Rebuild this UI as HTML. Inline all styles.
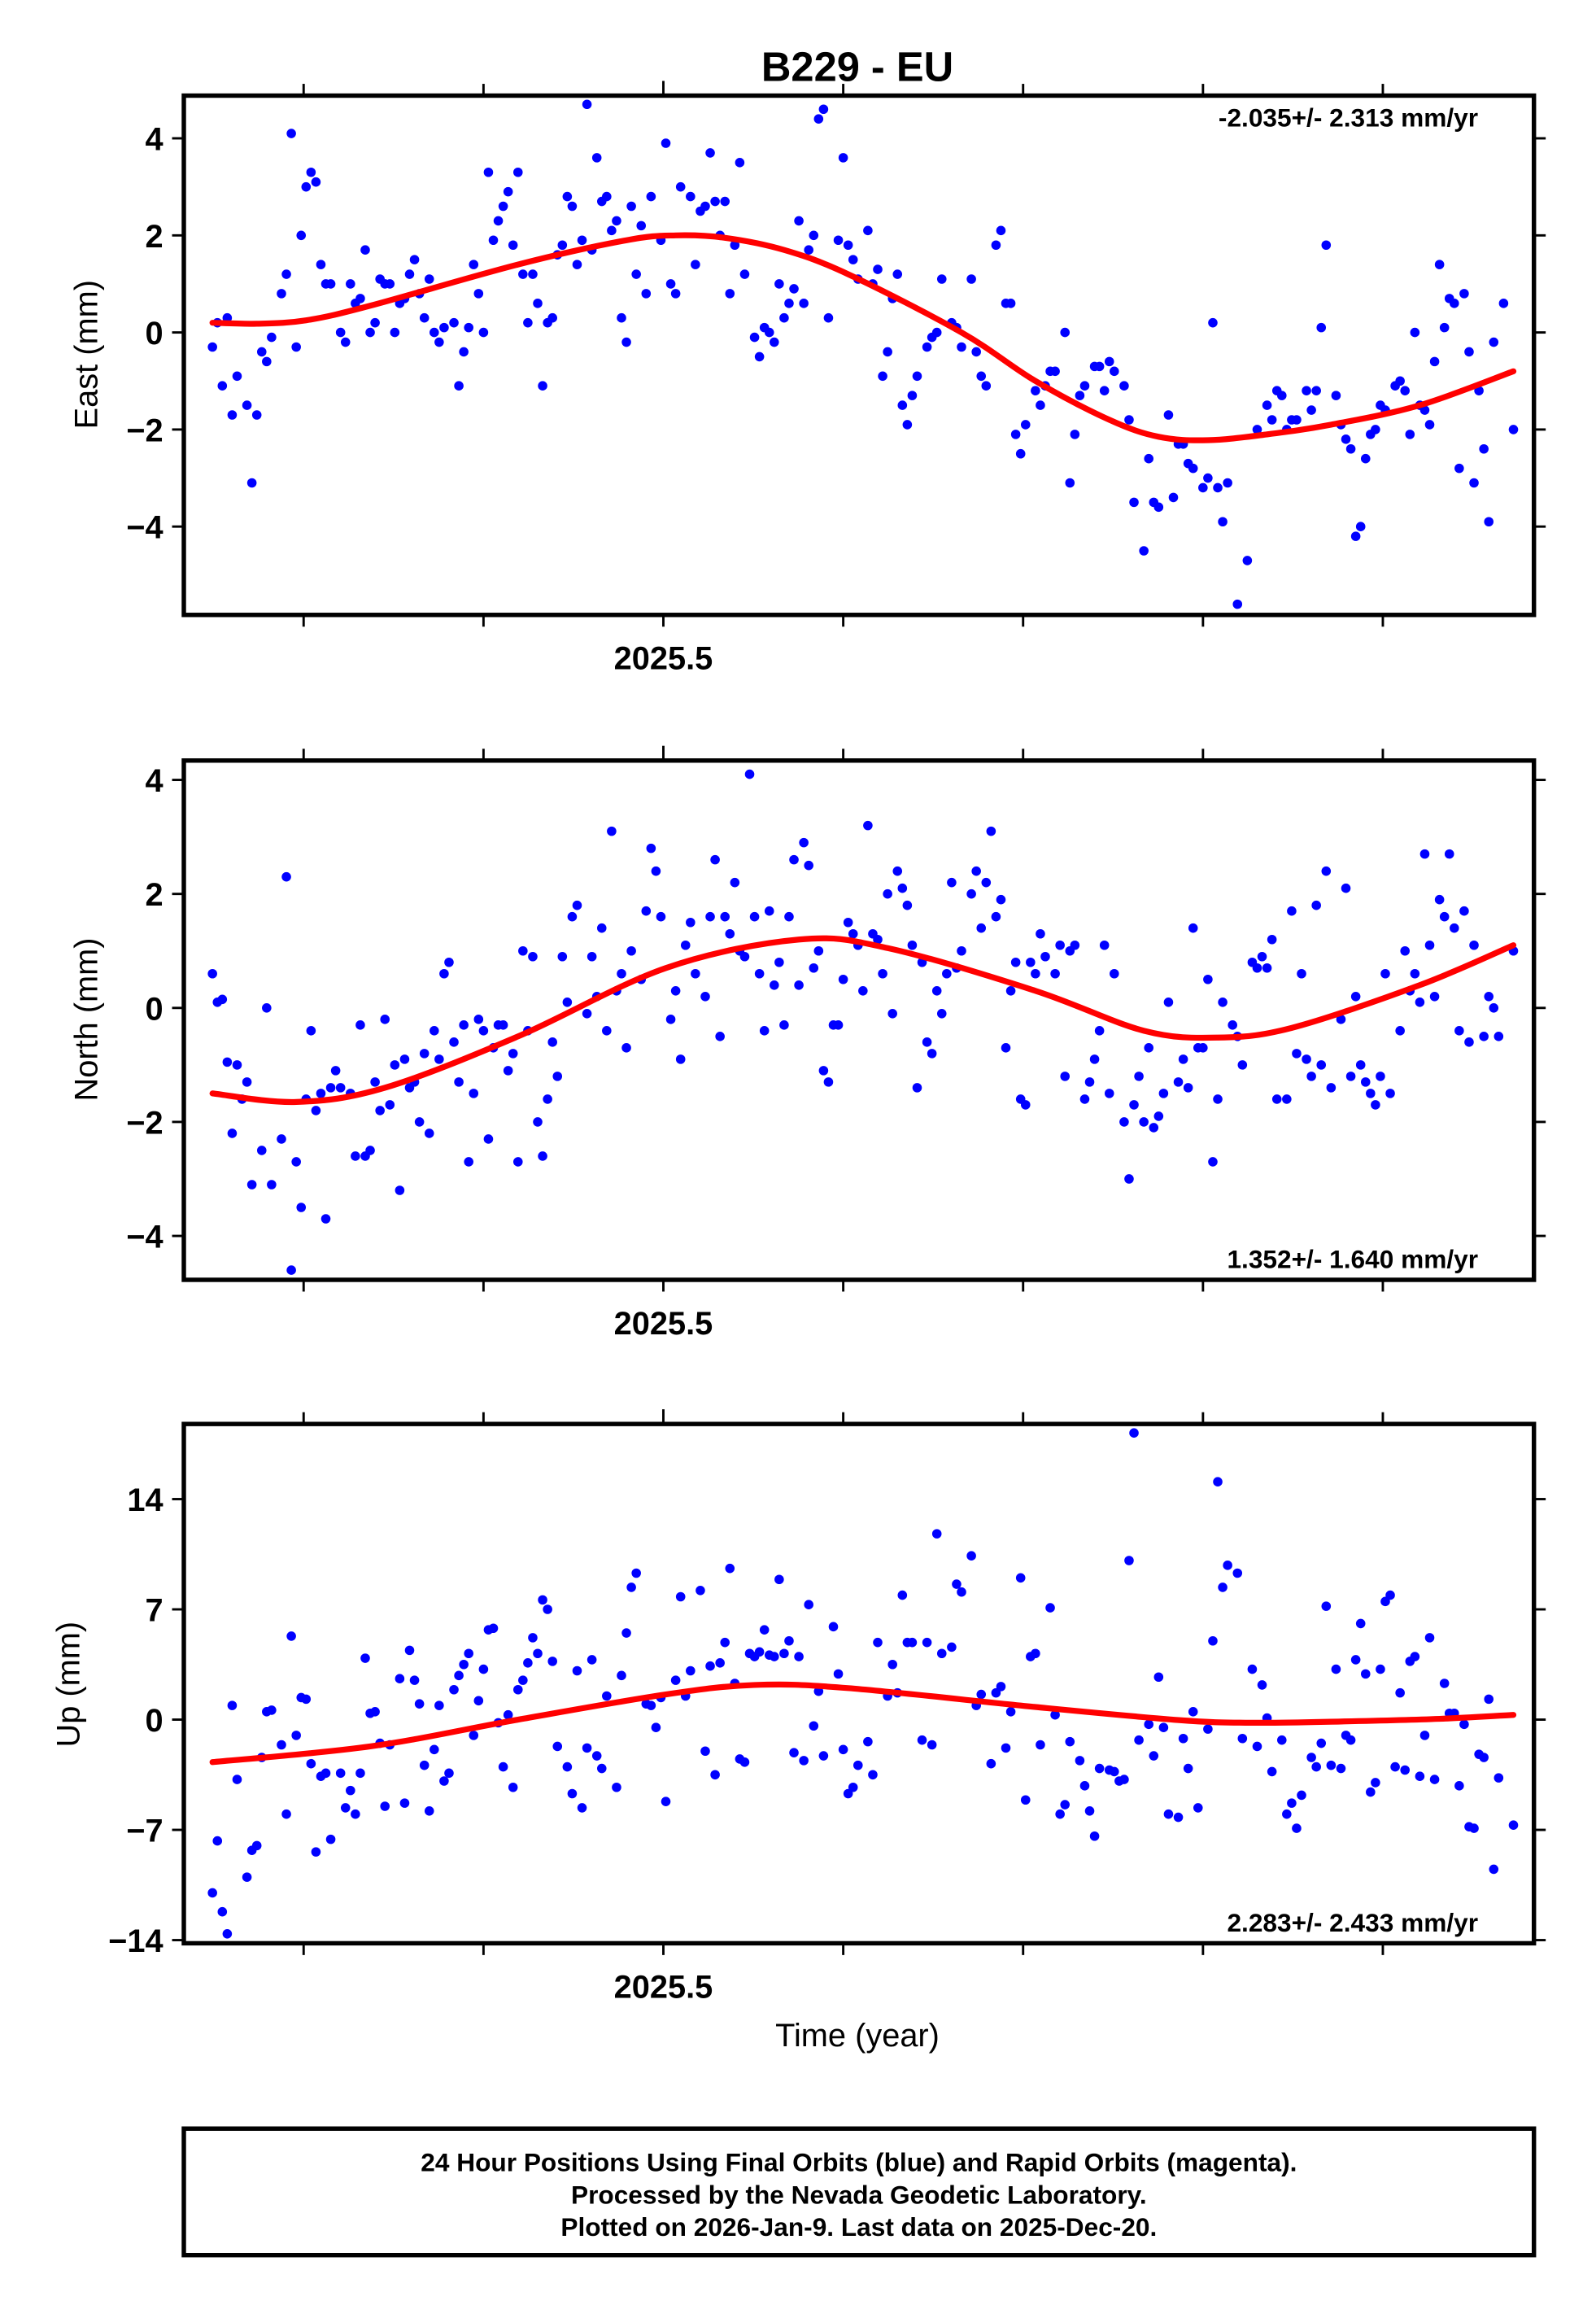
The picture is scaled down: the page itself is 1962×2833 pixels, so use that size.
<!DOCTYPE html>
<html><head><meta charset="utf-8"><title>B229 - EU</title>
<style>
html,body{margin:0;padding:0;background:#fff;}
svg{display:block;font-family:"Liberation Sans",Arial,sans-serif;}
</style></head>
<body>
<svg id="chart" width="1962" height="2833" viewBox="0 0 1085.2 1566.9" preserveAspectRatio="none" xmlns="http://www.w3.org/2000/svg">
<rect x="0" y="0" width="1090" height="1570" fill="#fff"/>
<text x="583" y="55" text-anchor="middle" font-size="28" font-weight="bold">B229 - EU</text>
<g id="panels"></g>
<text x="583" y="1391" text-anchor="middle" font-size="22">Time (year)</text>
<g>
<rect x="125" y="1447" width="918" height="86" fill="none" stroke="#000" stroke-width="3"/>
<text x="584" y="1476" text-anchor="middle" font-size="17.5" font-weight="bold">24 Hour Positions Using Final Orbits (blue) and Rapid Orbits (magenta).</text>
<text x="584" y="1498" text-anchor="middle" font-size="17.5" font-weight="bold">Processed by the Nevada Geodetic Laboratory.</text>
<text x="584" y="1520" text-anchor="middle" font-size="17.5" font-weight="bold">Plotted on 2026-Jan-9. Last data on 2025-Dec-20.</text>
</g>
</svg>
<script>
// ---- data (day of year 2025) ----
const eastDoy=[91,92,93,94,95,96,98,99,100,101,102,103,105,106,107,108,109,110,111,112,113,114,115,117,118,119,120,121,122,123,124,125,126,127,128,129,130,131,132,133,134,135,136,137,138,140,141,142,143,144,145,146,147,148,149,150,151,152,153,154,155,156,157,158,159,160,161,162,163,164,165,166,167,168,169,170,171,172,173,174,175,176,177,178,179,180,182,183,184,185,186,188,189,190,191,192,193,194,195,196,197,198,199,201,202,203,204,205,206,207,208,209,210,211,212,213,214,215,216,218,219,220,221,222,224,225,226,227,228,229,230,231,232,233,234,236,237,238,239,241,242,243,245,246,247,248,250,251,252,253,254,255,256,258,259,260,261,262,264,265,266,267,268,270,271,272,273,274,276,277,278,280,281,282,283,285,286,287,288,289,290,292,293,294,295,296,297,299,301,303,305,306,307,308,309,310,311,313,314,315,316,317,319,320,321,322,323,324,325,326,327,328,329,331,332,333,334,335,336,337,338,339,340,341,342,343,344,345,346,347,348,349,350,351,353,355];
const eastVal=[-0.3,0.2,-1.1,0.3,-1.7,-0.9,-1.5,-3.1,-1.7,-0.4,-0.6,-0.1,0.8,1.2,4.1,-0.3,2.0,3.0,3.3,3.1,1.4,1.0,1.0,0.0,-0.2,1.0,0.6,0.7,1.7,0.0,0.2,1.1,1.0,1.0,0.0,0.6,0.7,1.2,1.5,0.8,0.3,1.1,0.0,-0.2,0.1,0.2,-1.1,-0.4,0.1,1.4,0.8,0.0,3.3,1.9,2.3,2.6,2.9,1.8,3.3,1.2,0.2,1.2,0.6,-1.1,0.2,0.3,1.6,1.8,2.8,2.6,1.4,1.9,4.7,1.7,3.6,2.7,2.8,2.1,2.3,0.3,-0.2,2.6,1.2,2.2,0.8,2.8,1.9,3.9,1.0,0.8,3.0,2.8,1.4,2.5,2.6,3.7,2.7,2.0,2.7,0.8,1.8,3.5,1.2,-0.1,-0.5,0.1,0.0,-0.2,1.0,0.3,0.6,0.9,2.3,0.6,1.7,2.0,4.4,4.6,0.3,1.9,3.6,1.8,1.5,1.1,2.1,1.0,1.3,-0.9,-0.4,0.7,1.2,-1.5,-1.9,-1.3,-0.9,-0.3,-0.1,0.0,1.1,0.2,0.1,-0.3,1.1,-0.4,-0.9,-1.1,1.8,2.1,0.6,0.6,-2.1,-2.5,-1.9,-1.2,-1.5,-1.1,-0.8,-0.8,0.0,-3.1,-2.1,-1.3,-1.1,-0.7,-0.7,-1.2,-0.6,-0.8,-1.1,-1.8,-3.5,-4.5,-2.6,-3.5,-3.6,-1.7,-3.4,-2.3,-2.3,-2.7,-2.8,-3.2,-3.0,0.2,-3.2,-3.9,-3.1,-5.6,-4.7,-2.0,-1.5,-1.8,-1.2,-1.3,-2.0,-1.8,-1.8,-1.2,-1.6,-1.2,0.1,1.8,-1.3,-1.9,-2.2,-2.4,-4.2,-4.0,-2.6,-2.1,-2.0,-1.5,-1.6,-1.1,-1.0,-1.2,-2.1,0.0,-1.5,-1.6,-1.9,-0.6,1.4,0.1,0.7,0.6,-2.8,0.8,-0.4,-3.1,-1.2,-2.4,-3.9,-0.2,0.6,-2.0];
const northDoy=[91,92,93,94,95,96,97,98,99,101,102,103,105,106,107,108,109,110,111,112,113,114,115,116,117,119,120,121,122,123,124,125,126,127,128,129,130,131,132,133,134,135,136,137,138,139,140,141,142,143,144,145,146,147,148,149,150,151,152,153,154,155,156,157,158,159,160,161,162,163,164,165,167,168,169,170,171,172,173,174,175,176,178,179,180,181,182,184,185,186,187,188,189,191,192,193,194,195,196,197,198,199,200,201,202,203,204,205,206,207,208,209,210,211,212,213,214,215,216,217,218,219,220,221,222,223,224,225,226,227,228,229,230,231,232,233,234,235,236,237,238,239,240,241,242,243,245,246,247,248,249,250,251,252,253,254,255,256,257,258,259,260,262,263,264,265,266,268,269,270,271,272,273,274,276,277,278,279,280,281,282,283,284,285,287,288,289,290,291,292,293,294,295,296,298,299,300,302,303,304,305,306,307,309,310,311,312,313,314,315,316,317,318,320,321,322,323,324,325,326,327,328,329,330,332,333,334,335,336,337,338,339,340,341,342,343,344,345,346,347,349,350,351,352,355];
const northVal=[0.6,0.1,0.15,-0.95,-2.2,-1.0,-1.6,-1.3,-3.1,-2.5,0.0,-3.1,-2.3,2.3,-4.6,-2.7,-3.5,-1.6,-0.4,-1.8,-1.5,-3.7,-1.4,-1.1,-1.4,-1.5,-2.6,-0.3,-2.6,-2.5,-1.3,-1.8,-0.2,-1.7,-1.0,-3.2,-0.9,-1.4,-1.3,-2.0,-0.8,-2.2,-0.4,-0.9,0.6,0.8,-0.6,-1.3,-0.3,-2.7,-1.5,-0.2,-0.4,-2.3,-0.7,-0.3,-0.3,-1.1,-0.8,-2.7,1.0,-0.4,0.9,-2.0,-2.6,-1.6,-0.6,-1.2,0.9,0.1,1.6,1.8,-0.1,0.9,0.2,1.4,-0.4,3.1,0.3,0.6,-0.7,1.0,0.5,1.7,2.8,2.4,1.6,-0.2,0.3,-0.9,1.1,1.5,0.6,0.2,1.6,2.6,-0.5,1.6,1.3,2.2,1.0,0.9,4.1,1.6,0.6,-0.4,1.7,0.4,0.8,-0.3,1.6,2.6,0.4,2.9,2.5,0.7,1.0,-1.1,-1.3,-0.3,-0.3,0.5,1.5,1.3,1.1,0.3,3.2,1.3,1.2,0.6,2.0,-0.1,2.4,2.1,1.8,1.1,-1.4,0.8,-0.6,-0.8,0.3,-0.1,0.6,2.2,0.7,1.0,2.0,2.4,1.4,2.2,3.1,1.6,1.9,-0.7,0.3,0.8,-1.6,-1.7,0.8,0.6,1.3,0.9,0.6,1.1,-1.2,1.0,1.1,-1.6,-1.3,-0.9,-0.4,1.1,-1.5,0.6,-2.0,-3.0,-1.7,-1.2,-2.0,-0.7,-2.1,-1.9,-1.5,0.1,-1.3,-0.9,-1.4,1.4,-0.7,-0.7,0.5,-2.7,-1.6,0.1,-0.3,-0.5,-1.0,0.8,0.7,0.9,0.7,1.2,-1.6,-1.6,1.7,-0.8,0.6,-0.9,-1.2,1.8,-1.0,2.4,-1.4,-0.2,2.1,-1.2,0.2,-1.0,-1.3,-1.5,-1.7,-1.2,0.6,-1.5,-0.4,1.0,0.3,0.6,0.1,2.7,1.1,0.2,1.9,1.6,2.7,1.4,-0.4,1.7,-0.6,1.1,-0.5,0.2,0.0,-0.5,1.0];
const upDoy=[91,92,93,94,95,96,98,99,100,101,102,103,105,106,107,108,109,110,111,112,113,114,115,117,118,119,120,121,122,123,124,125,126,127,129,130,131,132,133,134,135,136,137,138,139,140,141,142,143,144,145,146,147,148,149,150,151,152,153,154,155,156,157,158,159,160,161,163,164,165,166,167,168,169,170,171,173,174,175,176,177,179,180,181,182,183,185,186,187,188,190,191,192,193,194,195,196,197,198,199,200,201,202,203,204,205,206,207,208,209,210,211,212,213,214,215,217,218,219,220,221,222,224,225,226,228,229,230,231,232,233,235,236,237,238,239,241,242,243,245,246,247,249,250,251,252,253,255,256,257,258,259,261,262,263,264,265,267,268,269,270,271,273,274,275,276,277,278,279,281,282,283,284,285,287,288,289,290,291,293,294,295,296,297,299,300,302,303,304,305,306,308,309,310,311,312,314,315,316,317,318,319,320,321,322,323,324,325,326,327,328,329,330,331,332,333,334,335,336,337,338,339,341,342,343,344,345,346,347,348,349,350,351,352,355];
const upVal=[-11,-7.7,-12.2,-13.6,0.9,-3.8,-10,-8.3,-8.0,-2.4,0.5,0.6,-1.6,-6.0,5.3,-1.0,1.4,1.3,-2.8,-8.4,-3.6,-3.4,-7.6,-3.4,-5.6,-4.5,-6.0,-3.4,3.9,0.4,0.5,-1.5,-5.5,-1.6,2.6,-5.3,4.4,2.5,1.0,-2.9,-5.8,-1.9,0.9,-3.9,-3.4,1.9,2.8,3.5,4.2,-1.0,1.2,3.2,5.7,5.8,-0.2,-3.0,0.3,-4.3,1.9,2.5,3.6,5.2,4.2,7.6,7.0,3.7,-1.7,-3.0,-4.7,3.1,-5.6,-1.8,3.8,-2.3,-3.1,1.5,-4.3,2.8,5.5,8.4,9.3,1.0,0.9,-0.5,1.4,-5.2,2.5,7.8,1.5,3.1,8.2,-2.0,3.4,-3.5,3.6,4.9,9.6,2.3,-2.5,-2.7,4.2,4.0,4.3,5.7,4.1,4.0,8.9,4.2,5.0,-2.1,4.0,-2.6,7.3,-0.4,1.8,-2.3,5.9,2.9,-1.9,-4.7,-4.3,-2.9,-1.4,-3.5,4.9,1.5,3.5,1.7,7.9,4.9,4.9,-1.3,4.9,-1.6,11.8,4.2,4.6,8.6,8.1,10.4,0.9,1.6,-2.8,1.7,2.1,-1.8,0.5,9.0,-5.1,4.0,4.2,-1.6,7.1,0.3,-6.0,-5.4,-1.4,-2.6,-4.2,-5.8,-7.4,-3.1,-3.2,-3.3,-3.9,-3.8,10.1,18.2,-1.3,-0.3,-2.3,2.7,-0.5,-6.0,-6.2,-1.2,-3.1,0.5,-5.6,-0.6,5.0,15.1,8.4,9.8,9.3,-1.2,3.2,-1.7,2.2,0.1,-3.3,-1.3,-6.0,-5.3,-6.9,-4.8,-2.4,-3.0,-1.5,7.2,-2.9,3.2,-3.1,-1.0,-1.3,3.8,6.1,2.9,-4.6,-4.0,3.2,7.5,7.9,-3.0,1.7,-3.2,3.7,4.0,-3.6,-1.0,5.2,-3.8,2.3,0.4,0.4,-4.2,-0.3,-6.8,-6.9,-2.2,-2.4,1.3,-9.5,-3.7,-6.7];
// fitted model curves
const eastFitDoy=[91,100,110,123,153,175,185,195,207,220,243,258,273,283,293,305,318,336,355];
const eastFitVal=[0.2,0.18,0.25,0.55,1.4,1.9,2.0,1.95,1.7,1.2,0.0,-1.0,-1.8,-2.15,-2.22,-2.1,-1.9,-1.5,-0.8];
const northFitDoy=[91,108,126,153,183,210,228,258,280,295,310,336,355];
const northFitVal=[-1.5,-1.65,-1.4,-0.5,0.7,1.2,1.05,0.3,-0.4,-0.52,-0.35,0.4,1.1];
const upFitDoy=[91,123,153,183,201,220,258,288,303,320,340,355];
const upFitVal=[-2.7,-1.7,0.0,1.6,2.2,2.0,0.8,-0.05,-0.2,-0.12,0.05,0.3];
const yTicksEN=[-4,-2,0,2,4];
const yTicksU=[-14,-7,0,7,14];
const xTicks=[2025.3,2025.4,2025.5,2025.6,2025.7,2025.8,2025.9];
const xLabels=["","","2025.5","","","",""];
const rateLabels=["-2.035+/- 2.313 mm/yr","1.352+/- 1.640 mm/yr","2.283+/- 2.433 mm/yr"];
const axisTitles=["East (mm)","North (mm)","Up (mm)"];

const NS="http://www.w3.org/2000/svg";
const L=125,R=1043,X0=2025.2334,X1=2025.984;
function xs(doy){const yr=2025+doy/365;return L+(yr-X0)/(X1-X0)*(R-L);}
function xy(yr){return L+(yr-X0)/(X1-X0)*(R-L);}
function mk(tag,attrs,parent){const e=document.createElementNS(NS,tag);for(const k in attrs)e.setAttribute(k,attrs[k]);parent.appendChild(e);return e;}
function smooth(pts){let d="M"+pts[0][0].toFixed(2)+","+pts[0][1].toFixed(2);
 for(let i=0;i<pts.length-1;i++){const p0=pts[i-1]||pts[i],p1=pts[i],p2=pts[i+1],p3=pts[i+2]||p2;
  const c1=[p1[0]+(p2[0]-p0[0])/6,p1[1]+(p2[1]-p0[1])/6],c2=[p2[0]-(p3[0]-p1[0])/6,p2[1]-(p3[1]-p1[1])/6];
  d+=" C"+c1[0].toFixed(2)+","+c1[1].toFixed(2)+" "+c2[0].toFixed(2)+","+c2[1].toFixed(2)+" "+p2[0].toFixed(2)+","+p2[1].toFixed(2);}
 return d;}
const panels=[
 {name:"east",top:65,bot:418,ymin:-5.82,ymax:4.88,ticks:yTicksEN,doy:eastDoy,val:eastVal,fd:eastFitDoy,fv:eastFitVal,rateY:86,titleX:62,titleY:241},
 {name:"north",top:517,bot:870,ymin:-4.77,ymax:4.34,ticks:yTicksEN,doy:northDoy,val:northVal,fd:northFitDoy,fv:northFitVal,rateY:862,titleX:62,titleY:693},
 {name:"up",top:968,bot:1321,ymin:-14.2,ymax:18.77,ticks:yTicksU,doy:upDoy,val:upVal,fd:upFitDoy,fv:upFitVal,rateY:1313,titleX:50,titleY:1145}
];
const root=document.getElementById("panels");
panels.forEach((p,pi)=>{
 const g=mk("g",{},root);
 
 
 const ys=v=>p.bot-(v-p.ymin)/(p.ymax-p.ymin)*(p.bot-p.top);
 xTicks.forEach((t,i)=>{const x=xy(t);
  const tb=mk("line",{x1:x,x2:x,y1:p.bot,y2:p.bot+8,stroke:"#000","stroke-width":1.6},g);
  
  
  const tt=mk("line",{x1:x,x2:x,y1:p.top,y2:p.top-(xLabels[i]?10:8),stroke:"#000","stroke-width":1.6},g);
  
  
  if(xLabels[i]){const tx=mk("text",{x:x,y:p.bot+37,"text-anchor":"middle","font-size":22,"font-weight":"bold"},g);tx.textContent=xLabels[i];
   
   }
 });
 p.ticks.forEach(v=>{const y=ys(v);
  const tl=mk("line",{x1:L-8,x2:L,y1:y,y2:y,stroke:"#000","stroke-width":1.6},g);
  
  
  const tr=mk("line",{x1:R,x2:R+8,y1:y,y2:y,stroke:"#000","stroke-width":1.6},g);
  
  
  const tx=mk("text",{x:L-14,y:y+8,"text-anchor":"end","font-size":22,"font-weight":"bold"},g);
  tx.textContent=(v<0?"\u2212"+Math.abs(v):String(v));
  
  
 });
 p.doy.forEach((d,i)=>{const c=mk("circle",{cx:xs(d).toFixed(2),cy:ys(p.val[i]).toFixed(2),r:3.2,fill:"#0000ff"},g);
  
  });
 const pts=p.fd.map((d,i)=>[xs(d),ys(p.fv[i])]);
 const path=mk("path",{d:smooth(pts),fill:"none",stroke:"#ff0000","stroke-width":4,"stroke-linecap":"round"},g);
 
 
 const fr=mk("rect",{x:L,y:p.top,width:R-L,height:p.bot-p.top,fill:"none",stroke:"#000","stroke-width":3},g);
 
 
 const rt=mk("text",{x:1005,y:p.rateY,"text-anchor":"end","font-size":17.5,"font-weight":"bold"},g);
 rt.textContent=rateLabels[pi];
 
 
 const at=mk("text",{x:0,y:0,"text-anchor":"middle","font-size":22,transform:"translate("+(p.titleX+4)+","+p.titleY+") rotate(-90)"},g);
 at.textContent=axisTitles[pi];
 
 
});
</script>
</body></html>
